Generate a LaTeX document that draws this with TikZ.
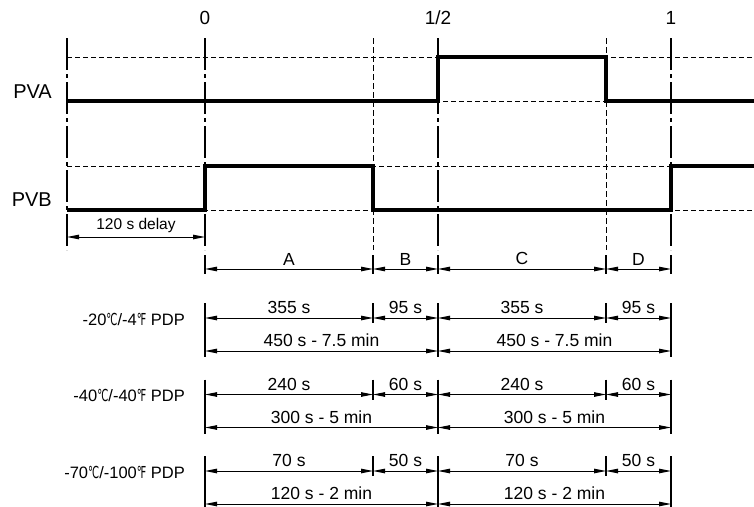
\documentclass[tikz,border=0pt]{standalone}
\usepackage{fontspec}
\usepackage{graphicx}
\setmainfont{Liberation Sans}
\newfontfamily\degfont{DejaVu Sans}
\usetikzlibrary{arrows.meta}
\newcommand{\degC}{\scalebox{0.6}[1]{\degfont ℃}}
\newcommand{\degF}{\scalebox{0.6}[1]{\degfont ℉}}

\begin{document}
\begin{tikzpicture}[x=1pt, y=-1pt]
	\tikzstyle{level}    = [line width=0.8pt, dash pattern=on 5pt off 3pt]
	\tikzstyle{timeline} = [line width=1.8pt, dash pattern=on 32pt off 4pt on 4pt off 4pt]
	\tikzstyle{phase}    = [line width=0.8pt, dash pattern=on 6pt off 3pt]
	\tikzstyle{signal}   = [line width=3.5pt, line join=miter]
	\tikzstyle{tick}     = [line width=1.2pt]
	\tikzstyle{dimline}  = [line width=1pt, {Triangle[length=12pt,width=4.5pt]}-{Triangle[length=12pt,width=4.5pt]}]
	\tikzstyle{dimtext}  = [inner sep=0pt, above=3.5pt, font=\fontsize{17.5}{19}\selectfont]
	\tikzstyle{bigtext}  = [inner sep=0pt, font=\fontsize{20}{22}\selectfont]

	\useasboundingbox (0,0) rectangle (754,506);

	% time marks
	\foreach \name/\x in {s/67, t0/205, tb/373, th/438, td/606, t1/671}
		\coordinate (\name) at (\x,38);

	\foreach \name/\txt in {t0/0, th/1\slash2, t1/1}
		\node[bigtext, font=\fontsize{19}{21}\selectfont] (lab\name) at ([yshift=20pt]\name) {\txt};

	% levels
	\foreach \y in {57, 101, 166, 210}
		\draw[level] (s |- 0,\y) -- (754,\y);

	\foreach \name in {s, t0, th, t1}
		\draw[timeline] (\name) -- (\name |- 0,250);
	\foreach \name in {tb, td}
		\draw[phase] (\name) -- (\name |- 0,250);

	% signals
	\node[bigtext, anchor=east] (pva) at (52,92) {PVA};
	\node[bigtext, anchor=east] (pvb) at (52,200) {PVB};

	\draw[signal] (s |- 0,101) -- (th |- 0,101) -- (th |- 0,57) -- (td |- 0,57) -- (td |- 0,101) -- (754,101);
	\draw[signal] (s |- 0,210) -- (t0 |- 0,210) -- (t0 |- 0,166) -- (tb |- 0,166) -- (tb |- 0,210) -- (t1 |- 0,210) -- (t1 |- 0,166) -- (754,166);

	\draw[dimline] (s |- 0,237) -- node[dimtext, font=\fontsize{15.5}{17}\selectfont] (delay) {120 s delay} (t0 |- 0,237);

	% phases
	\foreach \name in {t0, tb, th, td, t1}
		\draw[tick] (\name |- 0,255) -- (\name |- 0,274);
	\foreach \from/\to/\txt in {t0/tb/A, tb/th/B, th/td/C, td/t1/D}
		\draw[dimline] (\from |- 0,269) -- node[dimtext] (ph\txt) {\txt} (\to |- 0,269);

	% dew points
	\foreach \g/\y/\lab/\short/\long/\total in {1/318/{-20\degC/-4\degF\ PDP}/355/95/450 s - 7.5 min, 2/394.5/{-40\degC/-40\degF\ PDP}/240/60/300 s - 5 min, 3/471/{-70\degC/-100\degF\ PDP}/70/50/120 s - 2 min}
	{
		\node[inner sep=0pt, anchor=east, font=\fontsize{16.5}{18}\selectfont] (pdp\g) at (185,\y+1) {\lab};
		\foreach \name in {t0, th, t1}
			\draw[tick] (\name |- 0,\y-15) -- (\name |- 0,\y+39);
		\foreach \name in {tb, td}
			\draw[tick] (\name |- 0,\y-15) -- (\name |- 0,\y+5);
		\foreach \from/\to/\k in {t0/tb/a, th/td/c}
			\draw[dimline] (\from |- 0,\y) -- node[dimtext] (dur\g\k) {\short{} s} (\to |- 0,\y);
		\foreach \from/\to/\k in {tb/th/b, td/t1/d}
			\draw[dimline] (\from |- 0,\y) -- node[dimtext] (dur\g\k) {\long{} s} (\to |- 0,\y);
		\foreach \from/\to/\k in {t0/th/h, th/t1/f}
			\draw[dimline] (\from |- 0,\y+33) -- node[dimtext] (tot\g\k) {\total} (\to |- 0,\y+33);
	}
\end{tikzpicture}
\end{document}
